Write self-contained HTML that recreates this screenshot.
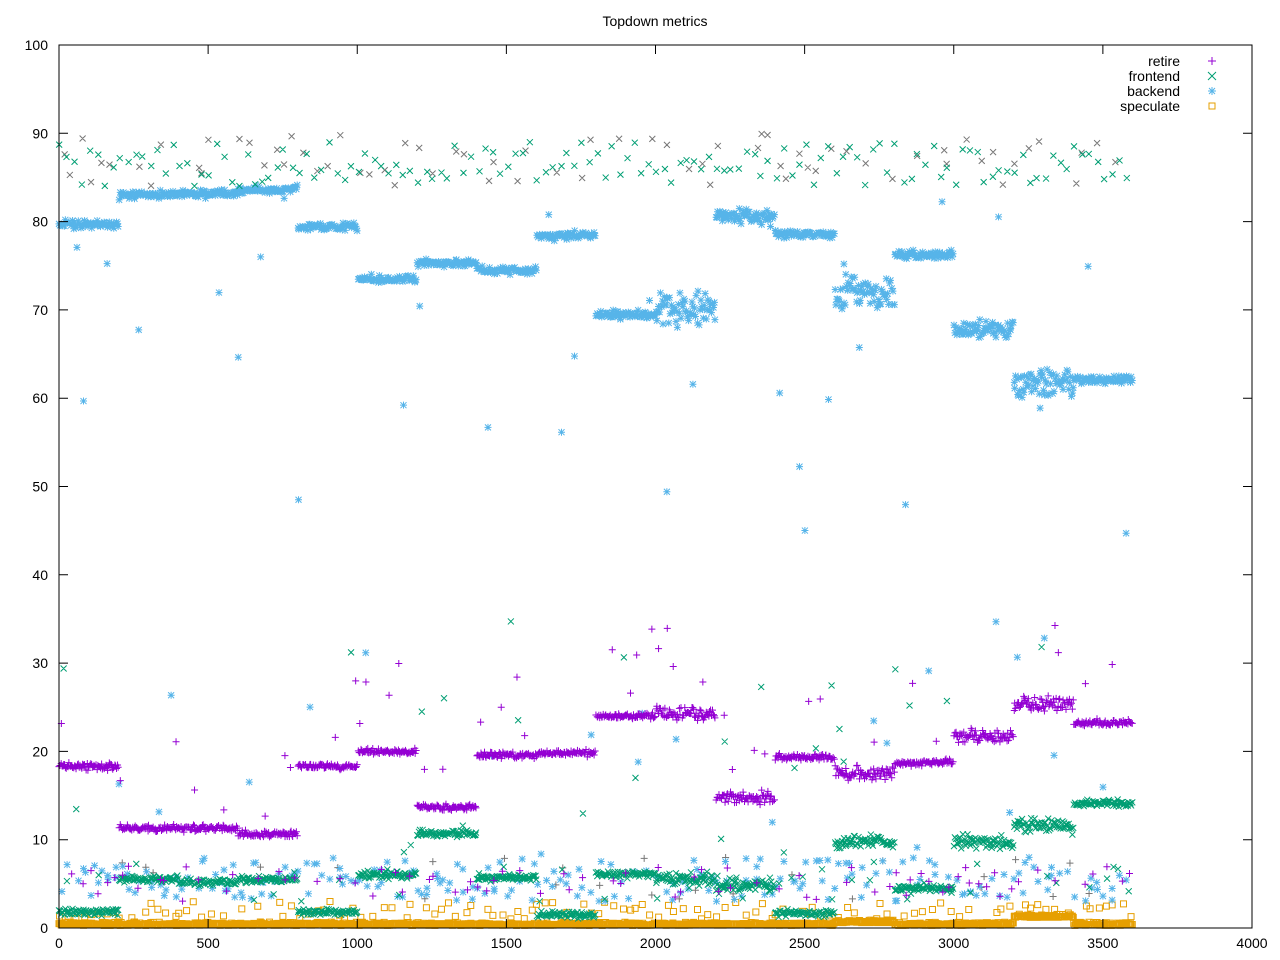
<!DOCTYPE html>
<html><head><meta charset="utf-8"><style>
html,body{margin:0;padding:0;background:#fff;}
svg{display:block;font-family:"Liberation Sans",sans-serif;}
</style></head><body>
<svg id="s" width="1280" height="960" xmlns="http://www.w3.org/2000/svg">
<rect width="1280" height="960" fill="#fff"/>
<text x="655" y="26" font-size="14" text-anchor="middle">Topdown metrics</text>
<g id="pts"></g>
<rect x="59" y="45" width="1193" height="883" fill="none" stroke="#000" stroke-width="1"/>
<g id="ax" font-size="14"></g>
<g font-size="14" text-anchor="end">
<text x="1180" y="66">retire</text>
<text x="1180" y="81">frontend</text>
<text x="1180" y="96">backend</text>
<text x="1180" y="111">speculate</text>
</g>
<g stroke-width="1" fill="none">
<path d="M1208,61h8M1212,57v8" stroke="#9400d3"/>
<path d="M1208,72l8,8M1208,80l8,-8" stroke="#009e73"/>
<path d="M1208,91h8M1212,87v8M1209,88l6,6M1209,94l6,-6" stroke="#56b4e9"/>
<rect x="1209" y="103" width="6" height="6" stroke="#e69f00"/>
</g>
</svg>
<script>
(function(){
var X=function(v){return 59+v*1193/4000;}, Y=function(v){return 928-v*8.83;};
var ax=document.getElementById('ax'), h='';
for(var i=0;i<=10;i++){var y=Y(i*10);h+='<path d="M59,'+y+'h9M1252,'+y+'h-9" stroke="#000"/><text x="48" y="'+(y+5)+'" text-anchor="end">'+(i*10)+'</text>';}
for(var i=0;i<=8;i++){var x=X(i*500);h+='<path d="M'+x+',928v-9M'+x+',45v9" stroke="#000"/><text x="'+x+'" y="948" text-anchor="middle">'+(i*500)+'</text>';}
ax.innerHTML=h;
var seed=7;function r(){seed=(seed*16807)%2147483647;return seed/2147483647;}
function n(){return (r()+r()+r()-1.5);}
var ret=[18.3,11.3,11.3,10.6,18.3,20,13.7,19.6,19.8,24,24.3,14.8,19.4,17.5,18.7,21.7,25.3,23.2];
var bk=[79.7,83,83.2,83.6,79.4,73.5,75.3,74.5,78.4,69.5,70,80.5,78.6,71.8,76.3,67.8,61.8,62.1];
var fe=[1.8,5.5,5.2,5.5,1.8,6,10.7,5.7,1.5,6.1,5.5,4.8,1.7,9.8,4.5,9.8,11.6,14.1];
var sp=[0.3,0.3,0.3,0.3,0.3,0.3,0.3,0.3,0.3,0.3,0.3,0.3,0.3,0.6,0.3,0.3,1.2,0.3];
var P={ret:'',fe:'',bk:'',sp:'',g:''};
function plus(x,y){return 'M'+(x-3.5)+','+y+'h7M'+x+','+(y-3.5)+'v7';}
function cross(x,y){return 'M'+(x-3)+','+(y-3)+'l6,6M'+(x-3)+','+(y+3)+'l6,-6';}
function star(x,y){return plus(x,y)+cross(x,y);}
function sq(x,y){return 'M'+(x-3)+','+(y-3)+'h6v6h-6z';}
for(var v=0;v<3600;v+=3){
 var s=Math.floor(v/200),x=X(v+r()*2);
 var sp2=(s==10||s==13||s==15||s==16||s==11)?1.5:0.7;
 P.ret+=plus(x,Y(ret[s]+n()*0.5*sp2));
 P.bk+=star(x,Y(bk[s]+n()*0.6*sp2*(s==10||s==13||s==16?2:1)));
 P.fe+=cross(x,Y(fe[s]+n()*0.5*sp2));
 P.sp+=sq(x,Y(sp[s]+Math.abs(n())*0.3));
}
for(var v=0;v<3600;v+=25){
 var s=Math.floor(v/200),x=X(v+r()*10);
 P.fe+=cross(x,Y(84+r()*5));
 if(r()<0.5)P.g+=cross(X(v+r()*20),Y(84+r()*6));
 if(r()<0.6)P.ret+=plus(X(v+r()*20),Y(3+r()*4));
 P.bk+=star(X(v+r()*20),Y(3+r()*5));
 if(r()<0.6)P.bk+=star(X(v+r()*20),Y(3+r()*5));
 if(r()<0.4)P.bk+=star(X(v+r()*20),Y(r()*80+5));
 if(r()<0.3)P.ret+=plus(X(v+r()*20),Y(ret[s]+2+r()*8));
 if(r()<0.8)P.sp+=sq(X(v+r()*20),Y(1+r()*2));
 if(r()<0.25)P.fe+=cross(X(v+r()*20),Y(5+r()*30));
 if(r()<0.3)P.fe+=cross(X(v+r()*20),Y(3+r()*4));
 if(r()<0.2)P.g+=plus(X(v+r()*20),Y(3+r()*5));
}
var g=document.getElementById('pts');
g.innerHTML='<path d="'+P.g+'" stroke="#777" fill="none" stroke-width="1"/>'+
'<path d="'+P.sp+'" stroke="#e69f00" fill="none" stroke-width="1"/>'+
'<path d="'+P.bk+'" stroke="#56b4e9" fill="none" stroke-width="1"/>'+
'<path d="'+P.fe+'" stroke="#009e73" fill="none" stroke-width="1"/>'+
'<path d="'+P.ret+'" stroke="#9400d3" fill="none" stroke-width="1"/>';
})();
</script>
</body></html>
